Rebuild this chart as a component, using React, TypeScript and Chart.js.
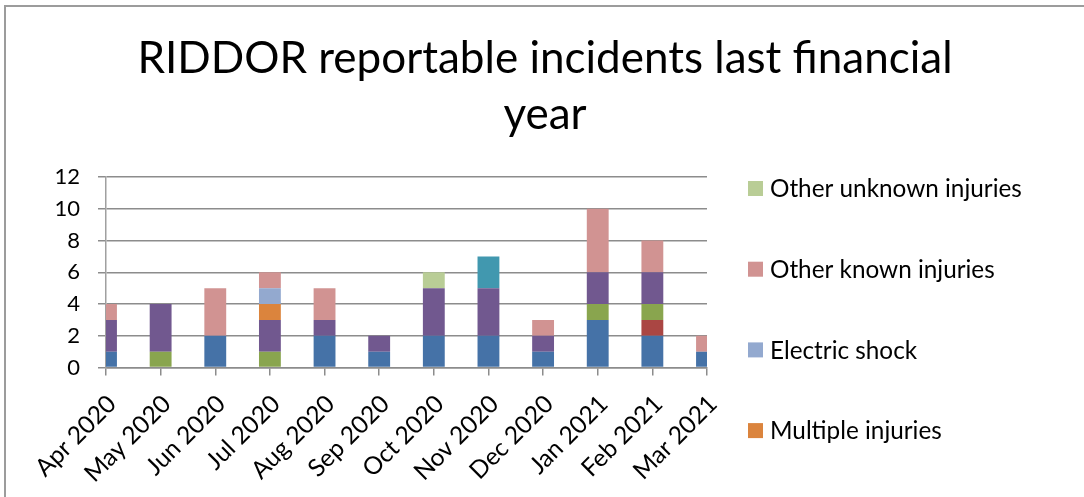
import { useEffect, useRef } from "react";
import { Chart, registerables } from "chart.js";

Chart.register(...registerables);

// Financial year months (category axis)
const months = [
  "Apr 2020", "May 2020", "Jun 2020", "Jul 2020", "Aug 2020", "Sep 2020",
  "Oct 2020", "Nov 2020", "Dec 2020", "Jan 2021", "Feb 2021", "Mar 2021",
];

// Incident counts per category, stacked bottom to top
const slipsTripsFalls = [1, 0, 2, 0, 2, 1, 2, 2, 1, 3, 2, 1];
const machineryInjuries = [0, 0, 0, 0, 0, 0, 0, 0, 0, 0, 1, 0];
const fallsFromHeight = [0, 1, 0, 1, 0, 0, 0, 0, 0, 1, 1, 0];
const manualHandling = [2, 3, 0, 2, 1, 1, 3, 3, 1, 2, 2, 0];
const struckByObject = [0, 0, 0, 0, 0, 0, 0, 2, 0, 0, 0, 0];
const multipleInjuries = [0, 0, 0, 1, 0, 0, 0, 0, 0, 0, 0, 0];
const electricShock = [0, 0, 0, 1, 0, 0, 0, 0, 0, 0, 0, 0];
const otherKnownInjuries = [1, 0, 3, 1, 2, 0, 0, 0, 1, 4, 2, 1];
const otherUnknownInjuries = [0, 0, 0, 0, 0, 0, 1, 0, 0, 0, 0, 0];

// Y axis range
const yMin = 0;
const yMax = 12;
const yStep = 2;

const titleLines = ["RIDDOR reportable incidents last financial", "year"];
const legendShown = [
  "Other unknown injuries",
  "Other known injuries",
  "Electric shock",
  "Multiple injuries",
];

const FONT = "Lato, 'Open Sans', sans-serif";
const GRID = "#8c8c8c";

const series = [
  { label: "Slips, trips and falls", data: slipsTripsFalls, color: "#4572A7" },
  { label: "Machinery", data: machineryInjuries, color: "#AA4643" },
  { label: "Falls from height", data: fallsFromHeight, color: "#89A54E" },
  { label: "Manual handling", data: manualHandling, color: "#71588F" },
  { label: "Struck by object", data: struckByObject, color: "#4198AF" },
  { label: "Multiple injuries", data: multipleInjuries, color: "#DB843D" },
  { label: "Electric shock", data: electricShock, color: "#93A9CF" },
  { label: "Other known injuries", data: otherKnownInjuries, color: "#D19392" },
  { label: "Other unknown injuries", data: otherUnknownInjuries, color: "#B9CD96" },
];

const decorations = {
  id: "decorations",
  beforeDraw(chart: any) {
    const ctx = chart.ctx;
    ctx.save();
    ctx.fillStyle = "#ffffff";
    ctx.fillRect(0, 0, chart.width, chart.height);
    ctx.strokeStyle = "#9c9c9c";
    ctx.lineWidth = 2;
    ctx.beginPath();
    ctx.moveTo(5, chart.height);
    ctx.lineTo(5, 6);
    ctx.lineTo(chart.width, 6);
    ctx.stroke();
    ctx.restore();
  },
  afterDraw(chart: any) {
    const ctx = chart.ctx;
    ctx.save();
    // Title
    ctx.fillStyle = "#000000";
    ctx.textAlign = "center";
    ctx.textBaseline = "alphabetic";
    ctx.font = `44px ${FONT}`;
    ctx.fillText(titleLines[0], 545, 73);
    ctx.fillText(titleLines[1], 545, 129);

    // Legend (top series first)
    const items = chart.data.datasets
      .slice()
      .reverse()
      .filter((d: any) => legendShown.includes(d.label));
    ctx.textAlign = "left";
    ctx.textBaseline = "middle";
    ctx.font = `24.3px ${FONT}`;
    items.forEach((d: any, i: number) => {
      const cy = 188.5 + i * 80.7;
      ctx.fillStyle = d.backgroundColor;
      ctx.fillRect(748, cy - 7.5, 15, 15);
      ctx.fillStyle = "#000000";
      ctx.fillText(d.label, 770, cy + 1);
    });
    ctx.restore();
  },
};

export default function App() {
  const canvasRef = useRef<HTMLCanvasElement | null>(null);

  useEffect(() => {
    const canvas = canvasRef.current;
    if (!canvas) return;
    const chart = new Chart(canvas, {
      type: "bar",
      data: {
        labels: months,
        datasets: series.map((s) => ({
          label: s.label,
          data: s.data,
          backgroundColor: s.color,
          borderWidth: 0,
          categoryPercentage: 0.4,
          barPercentage: 1,
          clip: 0,
        })),
      },
      options: {
        responsive: false,
        animation: false,
        layout: { padding: { top: 177, right: 377, left: 0, bottom: 0 } },
        plugins: {
          legend: { display: false },
          title: { display: false },
          tooltip: { enabled: false },
        },
        scales: {
          x: {
            stacked: true,
            offset: false,
            grid: {
              offset: false,
              drawOnChartArea: false,
              drawTicks: true,
              tickLength: 8,
              color: GRID,
              lineWidth: 1.5,
            },
            border: { display: true, color: GRID, width: 1.5 },
            ticks: {
              autoSkip: false,
              minRotation: 45,
              maxRotation: 45,
              padding: 14,
              labelOffset: 6,
              color: "#000000",
              font: { family: FONT, size: 24.5 },
            },
            afterFit: (s: any) => {
              s.height = 497 - 367.5;
            },
          },
          y: {
            stacked: true,
            min: yMin,
            max: yMax,
            ticks: {
              stepSize: yStep,
              padding: 18,
              color: "#000000",
              font: { family: FONT, size: 22 },
            },
            grid: { color: GRID, lineWidth: 1.5, tickLength: 8 },
            border: { display: true, color: "#a0a0a0", width: 1.5 },
            afterFit: (s: any) => {
              s.width = 106;
            },
          },
        },
      },
      plugins: [decorations],
    });
    return () => chart.destroy();
  }, []);

  return (
    <div style={{ position: "fixed", left: 0, top: 0, width: 1084, height: 497 }}>
      <canvas ref={canvasRef} width={1084} height={497} />
    </div>
  );
}
